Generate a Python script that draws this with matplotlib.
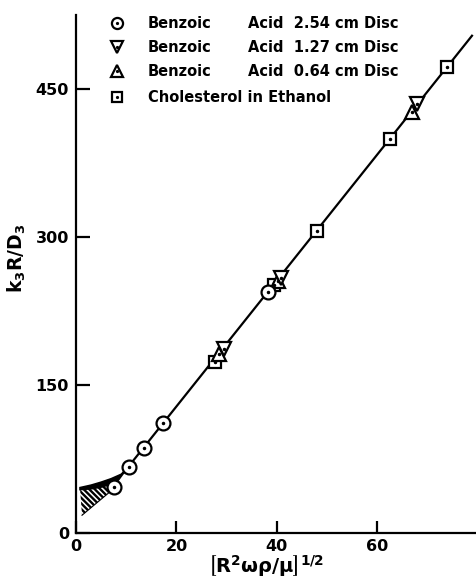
import matplotlib
matplotlib.use("Agg")
import matplotlib.pyplot as plt
import numpy as np

# values
circle_x = [7.6, 10.6, 13.5, 17.3, 38.3]
circle_y = [47, 67, 86, 111, 244]
tri_down_x = [29.5, 40.8, 67.9]
tri_down_y = [186, 258, 435]
tri_up_x = [28.5, 40.2, 66.9]
tri_up_y = [181, 255, 427]
square_x = [27.7, 39.4, 48.1, 62.5, 73.9]
square_y = [173, 251, 306, 399, 472]

fit_slope = 6.38
fit_intercept = 0.6
fit_range = [9.5, 78.9]

# shaded region at low flow rates
wedge_top_x = [0.8, 3.0, 5.0, 7.0, 9.0, 10.0]
wedge_top_y = [46.0, 48.5, 51.5, 55.0, 59.5, 64.4]
wedge_band_x = [10.0, 8.5, 7.0, 5.0, 3.0, 0.8]
wedge_band_y = [64.4, 54.0, 49.5, 46.5, 44.8, 44.0]
wedge_low_x = [8.0, 1.2, 0.8]
wedge_low_y = [47.0, 18.0, 45.0]

legend_labels = [
    ("Benzoic", "Acid  2.54 cm Disc"),
    ("Benzoic", "Acid  1.27 cm Disc"),
    ("Benzoic", "Acid  0.64 cm Disc"),
    ("Cholesterol in Ethanol", ""),
]
legend_markers = ["o", "v", "^", "s"]

plt.rcParams["font.family"] = ["DejaVu Sans"]
plt.rcParams["font.weight"] = "bold"
plt.rcParams["mathtext.default"] = "bf"
plt.rcParams["hatch.linewidth"] = 1.7

fig = plt.figure(figsize=(4.76, 5.81), dpi=100)
ax = fig.add_axes([76 / 476, 48 / 581, 400 / 476, 518 / 581])
ax.set_xlim(0, 79.7)
ax.set_ylim(0, 525)

for side in ["top", "right"]:
    ax.spines[side].set_visible(False)
for side in ["left", "bottom"]:
    ax.spines[side].set_linewidth(1.6)

# fit line
lx = np.array(fit_range)
ax.plot(lx, fit_slope * lx + fit_intercept, color="black", lw=1.6, zorder=2)

# hatched wedge
hx = wedge_top_x[:-1] + wedge_low_x
hy = wedge_top_y[:-1] + wedge_low_y
ax.fill(hx, hy, facecolor="white", edgecolor="black", hatch="\\\\\\\\\\\\", lw=0, zorder=1)
ax.fill(wedge_top_x + wedge_band_x, wedge_top_y + wedge_band_y, color="black", lw=1.2, zorder=2)
ax.plot([wedge_low_x[0], wedge_low_x[1]], [wedge_low_y[0], wedge_low_y[1]], color="black", lw=0.8, zorder=1)

mstyle = dict(linestyle="none", markerfacecolor="white", markeredgecolor="black",
              markeredgewidth=1.6, zorder=3)


def draw(xs, ys, marker, size):
    ax.plot(xs, ys, marker=marker, markersize=size, **mstyle)
    ax.plot(xs, ys, marker="o", markersize=1.5, color="black", linestyle="none", zorder=4)


draw(square_x, square_y, "s", 9)
draw(tri_up_x, tri_up_y, "^", 10)
draw(tri_down_x, tri_down_y, "v", 10)
draw(circle_x, circle_y, "o", 10)

ax.set_xticks([0, 20, 40, 60])
ax.set_yticks([0, 150, 300, 450])
ax.tick_params(axis="x", direction="in", length=8.5, width=1.6, labelsize=11.5, pad=4)
ax.tick_params(axis="y", direction="in", length=10, width=1.6, labelsize=11.5, pad=5)
for lab in ax.get_xticklabels() + ax.get_yticklabels():
    lab.set_fontweight("bold")

ax.set_ylabel(r"k$_3$R/D$_3$", fontsize=13.5, fontweight="bold", va="center")
ax.yaxis.set_label_coords(-0.1475, 0.531)
ax.set_xlabel(r"$\left[R^2\omega\rho/\mu\right]^{1/2}$", fontsize=14)
ax.xaxis.set_label_coords((266 - 76) / 400, (533 - 566) / 518)
ax.xaxis.label.set_va("center")

# legend
row_y = [23, 47, 71, 97]
for (a, b), m, py in zip(legend_labels, legend_markers, row_y):
    xa = (117 - 76) / 400
    ya = (533 - py) / 518
    ax.plot([xa], [ya], marker=m, markersize=8 if m != "s" else 7.5,
            transform=ax.transAxes, clip_on=False, **mstyle)
    ax.plot([xa], [ya], marker="o", markersize=1.3, color="black",
            transform=ax.transAxes, clip_on=False, linestyle="none", zorder=4)
    ax.text((148 - 76) / 400, ya, a, transform=ax.transAxes, fontsize=10.5,
            fontweight="bold", va="center", ha="left")
    if b:
        ax.text((248 - 76) / 400, ya, b, transform=ax.transAxes, fontsize=10.5,
                fontweight="bold", va="center", ha="left")

fig.savefig("out.png", dpi=100)
